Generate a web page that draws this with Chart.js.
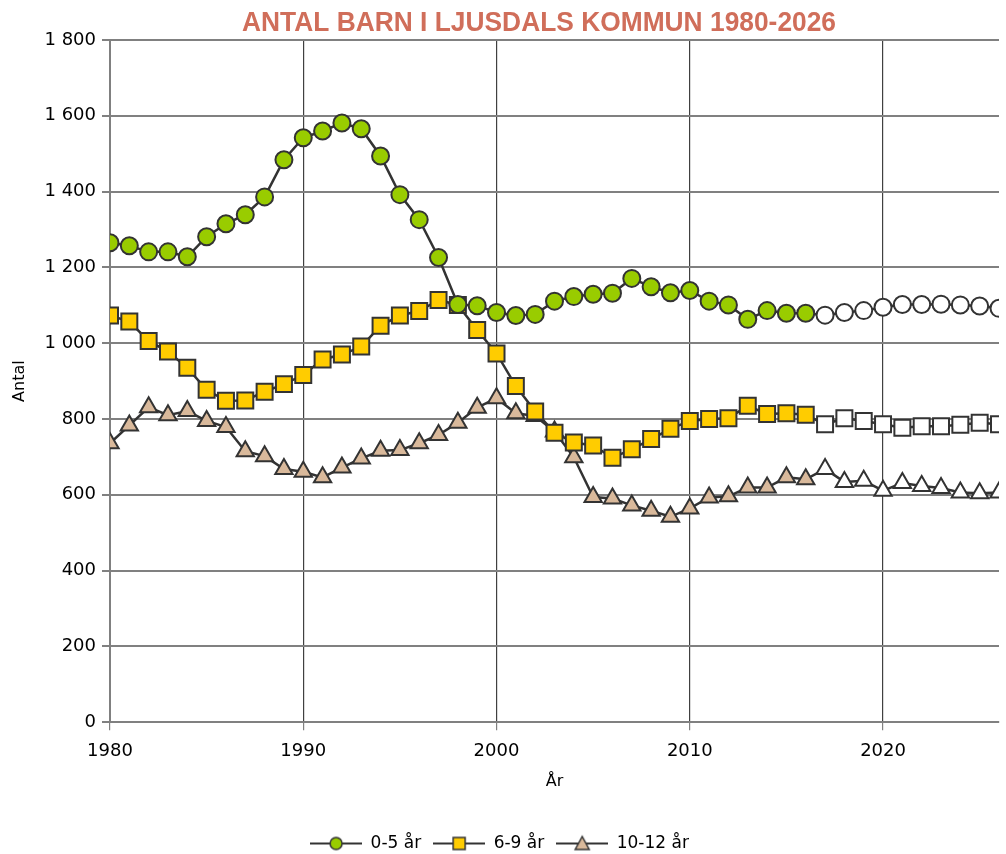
<!DOCTYPE html>
<html>
<head>
<meta charset="utf-8">
<script src="https://cdn.jsdelivr.net/npm/chart.js@4"></script>
<style>
  body { margin: 0; background: #fff; overflow: hidden; }
  #wrap { width: 1006px; height: 854px; }
</style>
</head>
<body>
<div id="wrap"><canvas id="chartBarn"></canvas></div>
<script>
const years = [];
for (let y = 1980; y <= 2026; y++) years.push(y);
const forecastFrom = 2017;

const age0to5 = [
  1265, 1257, 1241, 1241, 1228, 1281, 1315, 1339, 1386, 1484,
  1542, 1560, 1581, 1566, 1494, 1392, 1326, 1226, 1102, 1099,
  1081, 1073, 1076, 1111, 1123, 1129, 1132, 1171, 1149, 1133,
  1139, 1111, 1101, 1063, 1086, 1079, 1079, 1074, 1081, 1086,
  1095, 1102, 1102, 1103, 1101, 1098, 1092,
];
const age6to9 = [
  1073, 1057, 1006, 978, 935, 877, 848, 849, 872, 892,
  916, 957, 970, 991, 1046, 1073, 1085, 1114, 1101, 1035,
  973, 887, 820, 764, 738, 730, 698, 720, 747, 774,
  795, 800, 802, 835, 813, 815, 811, 786, 802, 795,
  786, 777, 781, 781, 785, 790, 786,
];
const age10to12 = [
  736, 783, 831, 810, 821, 795, 779, 715, 702, 668,
  661, 646, 672, 696, 716, 718, 736, 758, 790, 830,
  855, 815, 808, 767, 699, 594, 590, 572, 558, 542,
  564, 593, 596, 619, 619, 646, 641, 668, 634, 637,
  611, 631, 623, 618, 606, 604, 606,
];
const seriesNames = ["0-5 år", "6-9 år", "10-12 år"];
const seriesColors = ["#99CC00", "#FFCC00", "#D9B99B"];
const seriesStyles = ["circle", "rect", "triangle"];
const seriesRadius = [8.5, 11.3, 10];
const yTicks = [0, 200, 400, 600, 800, 1000, 1200, 1400, 1600, 1800];

const edge = "#333333";

function makeDataset(i, values) {
  return {
    label: seriesNames[i],
    data: years.map((yr, k) => ({ x: yr, y: values[k] })),
    borderColor: edge,
    borderWidth: 2.5,
    pointStyle: seriesStyles[i],
    pointRadius: seriesRadius[i],
    pointHoverRadius: seriesRadius[i],
    pointBorderColor: edge,
    pointBorderWidth: 2,
    pointBackgroundColor: years.map(yr => (yr >= forecastFrom ? "#ffffff" : seriesColors[i])),
    tension: 0,
  };
}

// legend icon: short line with marker in the middle
function legendIcon(i) {
  const c = document.createElement("canvas");
  c.width = 52; c.height = 20;
  const ctx = c.getContext("2d");
  ctx.strokeStyle = edge;
  ctx.lineWidth = 2;
  ctx.beginPath(); ctx.moveTo(0, 10); ctx.lineTo(52, 10); ctx.stroke();
  ctx.fillStyle = seriesColors[i];
  ctx.lineWidth = 1.5;
  ctx.beginPath();
  if (seriesStyles[i] === "circle") ctx.arc(26, 10, 6, 0, Math.PI * 2);
  else if (seriesStyles[i] === "rect") ctx.rect(20, 4, 12, 12);
  else { ctx.moveTo(26, 3); ctx.lineTo(33, 16); ctx.lineTo(19, 16); ctx.closePath(); }
  ctx.fill(); ctx.stroke();
  return c;
}

const titlePlugin = {
  id: "topTitle",
  afterDraw(chart) {
    const ctx = chart.ctx;
    const text = "ANTAL BARN I LJUSDALS KOMMUN 1980-2026";
    ctx.save();
    ctx.font = "bold 27px 'Liberation Sans Narrow', 'Arial Narrow', sans-serif";
    ctx.fillStyle = "#D06E5A";
    ctx.textBaseline = "middle";
    ctx.textAlign = "center";
    const w = ctx.measureText(text).width;
    ctx.translate(539, 24);
    ctx.scale(594 / w, 1);
    ctx.fillText(text, 0, 0);
    ctx.restore();
  },
};

const config = {
  type: "line",
  data: {
    datasets: [
      makeDataset(0, age0to5),
      makeDataset(1, age6to9),
      makeDataset(2, age10to12),
    ],
  },
  options: {
    responsive: true,
    maintainAspectRatio: false,
    animation: false,
    layout: { autoPadding: false, padding: { top: 40, right: 7, left: 0, bottom: -8 } },
    plugins: {
      tooltip: { enabled: false },
      legend: {
        position: "bottom",
        labels: {
          usePointStyle: true,
          pointStyleWidth: 52,
          color: "#000",
          font: { family: "'DejaVu Sans', Verdana, sans-serif", size: 17 },
          padding: 12,
          generateLabels: chart =>
            chart.data.datasets.map((ds, i) => ({
              text: ds.label,
              pointStyle: legendIcon(i),
              datasetIndex: i,
              fillStyle: seriesColors[i],
              strokeStyle: edge,
              lineWidth: 0,
              fontColor: "#000",
            })),
        },
      },
    },
    scales: {
      x: {
        type: "linear",
        min: 1980,
        max: 2026,
        afterFit: scale => { scale.paddingRight = 0; },
        ticks: {
          stepSize: 10,
          color: "#000",
          padding: 10,
          maxRotation: 0,
          font: { family: "'DejaVu Sans', Verdana, sans-serif", size: 18 },
          callback: v => (v % 10 === 0 ? String(v) : null),
        },
        grid: { color: "#404040", lineWidth: 1.2, tickLength: 8, tickColor: "#808080" },
        border: { color: "#808080", width: 2 },
        title: {
          display: true,
          text: "År",
          color: "#000",
          font: { family: "'DejaVu Sans', Verdana, sans-serif", size: 16 },
          padding: { top: 0, bottom: 32 },
        },
      },
      y: {
        min: 0,
        max: 1800,
        afterBuildTicks: scale => { scale.ticks = yTicks.map(v => ({ value: v })); },
        afterFit: scale => { scale.width = 110; },
        ticks: {
          color: "#000",
          padding: 6,
          font: { family: "'DejaVu Sans', Verdana, sans-serif", size: 18 },
          callback: v => String(v).replace(/\B(?=(\d{3})+(?!\d))/g, " "),
        },
        grid: { color: "#808080", lineWidth: 2, tickLength: 8 },
        border: { color: "#808080", width: 2 },
        title: {
          display: true,
          text: "Antal",
          color: "#000",
          font: { family: "'DejaVu Sans', Verdana, sans-serif", size: 16 },
          padding: { top: 10, bottom: 0 },
        },
      },
    },
  },
  plugins: [titlePlugin],
};

const chartBarn = new Chart(document.getElementById("chartBarn"), config);
</script>
</body>
</html>
